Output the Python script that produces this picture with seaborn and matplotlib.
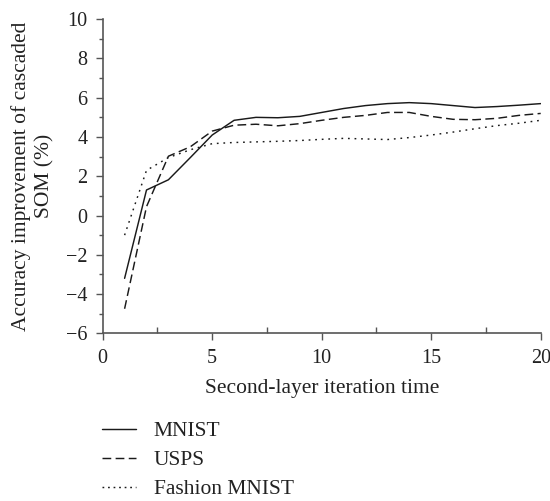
import numpy as np
import pandas as pd
import matplotlib
matplotlib.use("Agg")
import matplotlib.pyplot as plt
import seaborn as sns
from matplotlib.ticker import MultipleLocator
from matplotlib.lines import Line2D

iterations = list(range(1, 21))
mnist = [-3.2, 1.3, 1.82, 2.95, 4.1, 4.85, 5.0, 4.98, 5.05, 5.25, 5.45, 5.6, 5.7, 5.75, 5.7, 5.6, 5.5, 5.55, 5.62, 5.7]
usps = [-4.75, 0.45, 3.02, 3.5, 4.3, 4.6, 4.65, 4.57, 4.68, 4.85, 5.0, 5.1, 5.25, 5.25, 5.05, 4.9, 4.88, 4.95, 5.1, 5.2]
fashion = [-1.0, 2.3, 2.95, 3.35, 3.66, 3.72, 3.75, 3.78, 3.82, 3.88, 3.93, 3.9, 3.87, 3.97, 4.1, 4.25, 4.42, 4.58, 4.7, 4.85]
series_names = ["MNIST", "USPS", "Fashion MNIST"]

df = pd.DataFrame({
    "x": iterations * 3,
    "y": mnist + usps + fashion,
    "series": [series_names[0]] * 20 + [series_names[1]] * 20 + [series_names[2]] * 20,
})

sns.set_theme(style="ticks")
plt.rcParams["font.family"] = ["Liberation Serif", "DejaVu Serif"]

fig = plt.figure(figsize=(5.5, 5.01), dpi=100)
ax = fig.add_axes([102.7 / 550, 1 - 333.3 / 501, (540.7 - 102.7) / 550, (333.3 - 19.2) / 501])

dash_styles = {"MNIST": "", "USPS": (6, 3), "Fashion MNIST": (1.2, 3.3)}
sns.lineplot(data=df, x="x", y="y", hue="series", style="series",
             palette=["#1a1a1a", "#1a1a1a", "#1a1a1a"], dashes=dash_styles,
             linewidth=1.05, ax=ax, legend=False)

ax.set_xlim(0, 20)
ax.set_ylim(-6, 10)
ax.xaxis.set_major_locator(MultipleLocator(5))
ax.xaxis.set_minor_locator(MultipleLocator(2.5))
ax.yaxis.set_minor_locator(MultipleLocator(1))
ax.set_yticks(range(-6, 11, 2))
ax.set_yticklabels(["\u22126", "\u22124", "\u22122", "0", "2", "4", "6", "8", "10"])

for s in ["top", "right"]:
    ax.spines[s].set_visible(False)
for s in ["left", "bottom"]:
    ax.spines[s].set_color("#555555")
    ax.spines[s].set_linewidth(1.2)

ax.tick_params(axis="both", which="major", length=5, width=1.0, color="#555555",
               labelsize=14.5, labelcolor="#222222")
ax.tick_params(axis="x", which="major", pad=6)
ax.tick_params(axis="y", which="major", pad=6)
ax.tick_params(axis="y", which="minor", length=3, width=1.0, color="#555555")
ax.tick_params(axis="x", which="minor", direction="in", length=4, width=1.0, color="#555555")

ax.set_xlabel("Second-layer iteration time", fontsize=15.5, color="#222222", labelpad=8)
ax.set_ylabel("Accuracy improvement of cascaded\nSOM (%)", fontsize=15.5, color="#222222",
              labelpad=8, linespacing=1.3)

handles = [
    Line2D([], [], color="#1a1a1a", lw=1.05, linestyle="-"),
    Line2D([], [], color="#1a1a1a", lw=1.05, linestyle=(0, (6, 3))),
    Line2D([], [], color="#1a1a1a", lw=1.05, linestyle=(0, (1.2, 2.6))),
]
leg = fig.legend(handles, series_names, loc="upper left",
                 bbox_to_anchor=(102 / 550, 1 - 421 / 501), frameon=False,
                 fontsize=15.5, handlelength=1.6, handletextpad=0.8, labelspacing=0.42,
                 borderaxespad=0, borderpad=0)
for t in leg.get_texts():
    t.set_color("#222222")

fig.savefig("out.png", dpi=100)
